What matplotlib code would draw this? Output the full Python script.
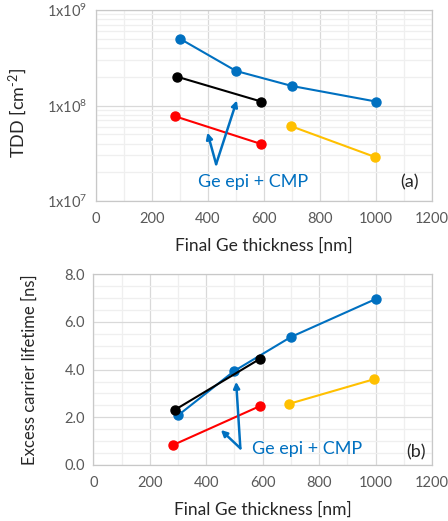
import matplotlib
matplotlib.use("Agg")
import matplotlib.pyplot as plt
from matplotlib.ticker import FixedLocator, MultipleLocator, LogLocator, NullFormatter

plt.rcParams['font.family'] = ['Lato', 'DejaVu Sans']
plt.rcParams['mathtext.default'] = 'regular'

# Final Ge thickness [nm] for each sample series
x_blue = [300, 500, 700, 1000]
x_black = [290, 590]
x_red = [283, 590]
x_yellow = [695, 995]

# Threading dislocation density [cm^-2]
tdd_blue = [5.0e8, 2.3e8, 1.6e8, 1.1e8]
tdd_black = [2.0e8, 1.1e8]
tdd_red = [7.7e7, 3.95e7]
tdd_yellow = [6.1e7, 2.9e7]

# Excess carrier lifetime [ns]
tau_blue = [2.08, 3.95, 5.37, 6.96]
tau_black = [2.32, 4.45]
tau_red = [0.84, 2.47]
tau_yellow = [2.57, 3.60]

x_ticks = [0, 200, 400, 600, 800, 1000, 1200]
tdd_ticks = [1e7, 1e8, 1e9]
tdd_tick_labels = ['1x10$^{7}$', '1x10$^{8}$', '1x10$^{9}$']
tau_ticks = [0.0, 2.0, 4.0, 6.0, 8.0]

BLUE = '#0070C0'
BLACK = '#000000'
RED = '#FF0000'
YELLOW = '#FFC000'
GRID_MAJ = '#D9D9D9'
GRID_MIN = '#EFEFEF'
TICK_COL = '#595959'
LABEL_COL = '#262626'

fig = plt.figure(figsize=(4.48, 5.21), dpi=100)
ax1 = fig.add_axes([0.2143, 0.6142, 0.75, 0.3666])
ax2 = fig.add_axes([0.2083, 0.1075, 0.756, 0.3660])

series = [
    (x_blue, tdd_blue, tau_blue, BLUE),
    (x_black, tdd_black, tau_black, BLACK),
    (x_red, tdd_red, tau_red, RED),
    (x_yellow, tdd_yellow, tau_yellow, YELLOW),
]

for xs, tdd, tau, c in series:
    ax1.plot(xs, tdd, color=c, lw=1.5, marker='o', ms=6.5, zorder=3)
    ax2.plot(xs, tau, color=c, lw=1.5, marker='o', ms=6.5, zorder=3)


def style(ax):
    ax.set_xlim(0, 1200)
    ax.xaxis.set_major_locator(FixedLocator(x_ticks))
    ax.xaxis.set_minor_locator(MultipleLocator(100))
    ax.grid(which='major', color=GRID_MAJ, lw=0.9, zorder=0)
    ax.grid(which='minor', color=GRID_MIN, lw=0.9, zorder=0)
    ax.set_axisbelow(True)
    for sp in ax.spines.values():
        sp.set_color('#C8C8C8')
        sp.set_linewidth(0.9)
    ax.tick_params(which='both', length=0, labelsize=10.5, colors=TICK_COL)
    ax.tick_params(axis='x', pad=8)
    ax.tick_params(axis='y', pad=6)
    ax.set_xlabel('Final Ge thickness [nm]', fontsize=12.5, color=LABEL_COL, labelpad=8)


# (a) TDD
ax1.set_yscale('log')
ax1.set_ylim(1e7, 1e9)
ax1.yaxis.set_major_locator(FixedLocator(tdd_ticks))
ax1.set_yticklabels(tdd_tick_labels)
ax1.yaxis.set_minor_locator(LogLocator(base=10, subs=range(2, 10)))
ax1.yaxis.set_minor_formatter(NullFormatter())
style(ax1)
ax1.set_ylabel('TDD [cm$^{\u20102}$]', fontsize=13, color=LABEL_COL)
ax1.yaxis.set_label_coords(-0.2, 0.46)

ax1.annotate('', xy=(398, 5.2e7), xytext=(429, 2.43e7),
             arrowprops=dict(arrowstyle='-|>', color=BLUE, lw=1.8,
                             mutation_scale=9, shrinkA=0, shrinkB=0))
ax1.annotate('', xy=(503, 1.13e8), xytext=(429, 2.43e7),
             arrowprops=dict(arrowstyle='-|>', color=BLUE, lw=1.8,
                             mutation_scale=9, shrinkA=0, shrinkB=0))
ax1.text(562, 1.58e7, 'Ge epi + CMP', color=BLUE, fontsize=13,
         ha='center', va='center')
ax1.text(1120, 1.58e7, '(a)', color=LABEL_COL, fontsize=13,
         ha='center', va='center')

# (b) lifetime
ax2.set_ylim(0, 8)
ax2.yaxis.set_major_locator(FixedLocator(tau_ticks))
ax2.set_yticklabels([f'{v:.1f}' for v in tau_ticks])
ax2.yaxis.set_minor_locator(MultipleLocator(0.5))
style(ax2)
ax2.set_ylabel('Excess carrier lifetime [ns]', fontsize=12, color=LABEL_COL)
ax2.yaxis.set_label_coords(-0.165, 0.5)

ax2.annotate('', xy=(506, 3.49), xytext=(521, 0.70),
             arrowprops=dict(arrowstyle='-|>', color=BLUE, lw=1.8,
                             mutation_scale=9, shrinkA=0, shrinkB=0))
ax2.annotate('', xy=(452, 1.47), xytext=(521, 0.70),
             arrowprops=dict(arrowstyle='-|>', color=BLUE, lw=1.8,
                             mutation_scale=9, shrinkA=0, shrinkB=0))
ax2.text(756, 0.66, 'Ge epi + CMP', color=BLUE, fontsize=13,
         ha='center', va='center')
ax2.text(1145, 0.55, '(b)', color=LABEL_COL, fontsize=13,
         ha='center', va='center')

fig.savefig('out.png', dpi=100)
